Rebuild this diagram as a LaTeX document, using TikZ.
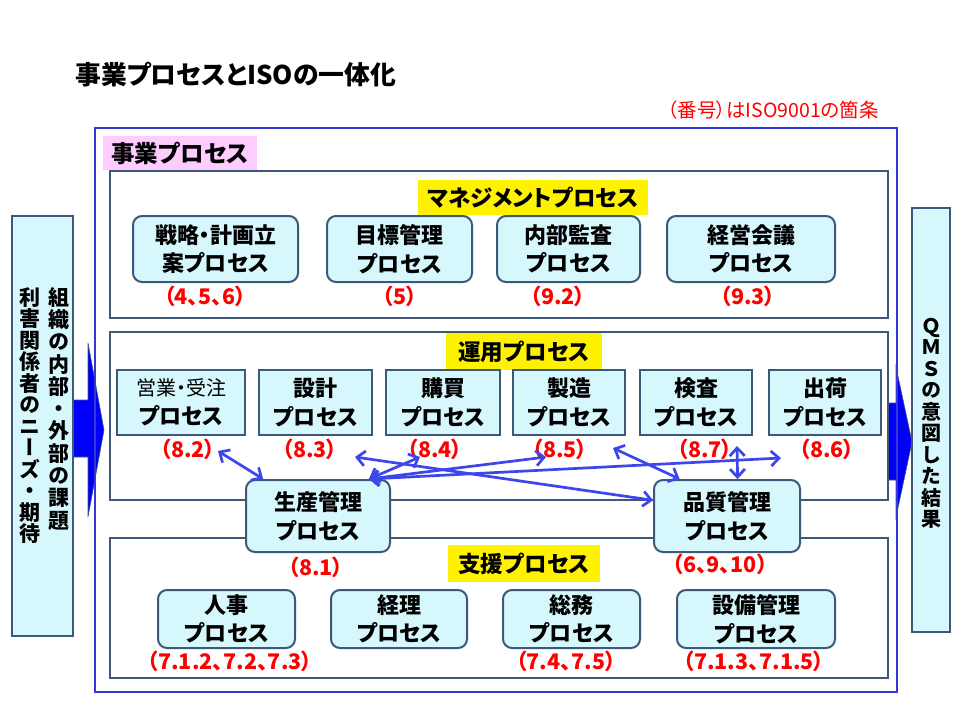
\documentclass[tikz,border=0pt]{standalone}
\usepackage{fontspec}
\newfontfamily\jp[RawFeature=+palt]{Noto Sans CJK JP}
\newfontfamily\jpv[RawFeature=+vert]{Noto Sans CJK JP}
\usetikzlibrary{arrows.meta}
\definecolor{frameblue}{RGB}{55,55,210}
\definecolor{slate}{RGB}{62,88,122}
\definecolor{cyanfill}{RGB}{214,247,252}
\definecolor{pinkfill}{RGB}{255,204,255}
\definecolor{arrowblue}{RGB}{60,70,235}
\definecolor{bigblue}{RGB}{0,0,250}
\tikzset{
  sect/.style={draw=slate, line width=2pt, fill=white, inner sep=0pt},
  yel/.style={fill=yellow, inner sep=0pt, font=\jp\bfseries\fontsize{22.5}{26}\selectfont},
  procr/.style={draw=slate, line width=2pt, fill=cyanfill, rounded corners=9pt, inner sep=0pt, align=center, font=\jp\bfseries\fontsize{22}{28.5}\selectfont},
  procs/.style={draw=slate, line width=2pt, fill=cyanfill, inner sep=0pt, align=center, font=\jp\bfseries\fontsize{22}{28.5}\selectfont},
  lab/.style={text=red, inner sep=0pt, font=\jp\bfseries\fontsize{21.5}{24}\selectfont},
  vtext/.style={inner sep=0pt, align=center, anchor=north},
  conn/.style={draw=arrowblue, line width=2.7pt, {Straight Barb[length=8pt,width=15pt]}-{Straight Barb[length=8pt,width=15pt]}},
  bigarrow/.style={fill=bigblue, draw=slate, line width=0.6pt}
}
\begin{document}
\begin{tikzpicture}[x=1pt,y=-1pt]
\useasboundingbox[fill=white] (0,0) rectangle (960,720);

% big arrows (behind)
\draw[bigarrow] (73,400) -- (88,400) -- (88,343) -- (104,430) -- (88,517) -- (88,457) -- (73,457) -- cycle;
\draw[bigarrow] (884,403) -- (896,403) -- (896,367) -- (912,442) -- (896,517) -- (896,480) -- (884,480) -- cycle;

% title and note
\node[anchor=west, inner sep=0pt, font=\jp\bfseries\fontsize{25.8}{30}\selectfont] (title) at (75,75) {事業プロセスとISOの一体化};
\node[anchor=east, inner sep=0pt, text=red, font=\jp\fontsize{19.5}{22}\selectfont] (note) at (879,110) {（番号）はISO9001の箇条};

% outer frame
\node[draw=frameblue, line width=2pt, minimum width=802pt, minimum height=564pt, inner sep=0pt] (frame) at (496,410) {};
\node[fill=pinkfill, minimum width=154pt, minimum height=34pt, inner sep=0pt, font=\jp\bfseries\fontsize{23.5}{27}\selectfont] (jigyo) at (180,153) {事業プロセス};

% sections
\node[sect, minimum width=778pt, minimum height=147pt] (mgmt) at (499,244.5) {};
\node[sect, minimum width=778pt, minimum height=168pt] (ops) at (499,416) {};
\node[sect, minimum width=778pt, minimum height=140pt] (supp) at (499,608) {};

\node[yel, minimum width=230pt, minimum height=35pt] (ymgmt) at (533,197.5) {マネジメントプロセス};
\node[yel, minimum width=156pt, minimum height=37pt] (yops) at (524,351.5) {運用プロセス};
\node[yel, minimum width=152pt, minimum height=37pt] (ysupp) at (524,563.5) {支援プロセス};

% management processes
\node[procr, minimum width=165pt, minimum height=66pt] (senryaku) at (215.5,249) {戦略・計画立\\案プロセス};
\node[procr, minimum width=145pt, minimum height=66pt] (mokuhyo) at (399.5,249) {目標管理\\プロセス};
\node[procr, minimum width=143pt, minimum height=66pt] (naibu) at (568.5,249) {内部監査\\プロセス};
\node[procr, minimum width=168pt, minimum height=66pt] (keiei) at (751,249) {経営会議\\プロセス};
\node[lab] (l1) at (205,296) {（4、5、6）};
\node[lab] (l2) at (400,296) {（5）};
\node[lab] (l3) at (558,296) {（9.2）};
\node[lab] (l4) at (748,296) {（9.3）};

% operation processes
\node[procs, minimum width=128pt, minimum height=65pt] (eigyo) at (181,402.5) {{\mdseries\fontsize{20}{28.5}\selectfont 営業・受注}\\プロセス};
\node[procs, minimum width=113pt, minimum height=65pt] (sekkei) at (315.5,402.5) {設計\\プロセス};
\node[procs, minimum width=114pt, minimum height=65pt] (kobai) at (443,402.5) {購買\\プロセス};
\node[procs, minimum width=112pt, minimum height=65pt] (seizo) at (569,402.5) {製造\\プロセス};
\node[procs, minimum width=112pt, minimum height=65pt] (kensa) at (696,402.5) {検査\\プロセス};
\node[procs, minimum width=112pt, minimum height=65pt] (shukka) at (825,402.5) {出荷\\プロセス};
\node[lab] (l82) at (188,449) {（8.2）};
\node[lab] (l83) at (310,449) {（8.3）};
\node[lab] (l84) at (435,449) {（8.4）};
\node[lab] (l85) at (560,449) {（8.5）};
\node[lab] (l87) at (705,449) {（8.7）};
\node[lab] (l86) at (827,449) {（8.6）};

% support processes
\node[procr, minimum width=137pt, minimum height=58pt] (jinji) at (226.5,619) {人事\\プロセス};
\node[procr, minimum width=136pt, minimum height=58pt] (keiri) at (399,619) {経理\\プロセス};
\node[procr, minimum width=137pt, minimum height=58pt] (somu) at (571.5,619) {総務\\プロセス};
\node[procr, minimum width=158pt, minimum height=58pt] (setsubi) at (756,619) {設備管理\\プロセス};
\node[lab] (ls1) at (230,661) {（7.1.2、7.2、7.3）};
\node[lab] (ls2) at (566,661) {（7.4、7.5）};
\node[lab] (ls3) at (754,661) {（7.1.3、7.1.5）};

% control processes
\node[procr, minimum width=144pt, minimum height=72pt] (seisan) at (318,516) {生産管理\\プロセス};
\node[procr, minimum width=146pt, minimum height=72pt] (hinshitsu) at (727,516) {品質管理\\プロセス};
\node[lab] (l81) at (316,567) {（8.1）};
\node[lab] (lq) at (720,564) {（6、9、10）};

% connector free ends
\coordinate (c82) at (218,451);
\coordinate (c83) at (355,457);
\coordinate (c84) at (420,457);
\coordinate (c85) at (546,457);
\coordinate (c85b) at (613,448);
\coordinate (c86) at (781,458);
\coordinate (c87) at (737,446);

\draw[conn] (c82) -- (seisan.146);
\draw[conn] (c83) -- (hinshitsu.168);
\draw[conn] (seisan.36) -- (c84);
\draw[conn] (seisan.36) -- (c85);
\draw[conn] (seisan.36) -- (c86);
\draw[conn] (c85b) -- (hinshitsu.142);
\draw[conn] (c87) -- (hinshitsu.74.5);

% side boxes
\node[draw=slate, line width=2pt, fill=cyanfill, minimum width=61pt, minimum height=420pt, inner sep=0pt] (left) at (42.5,426) {};
\node[draw=slate, line width=2pt, fill=cyanfill, minimum width=38pt, minimum height=424pt, inner sep=0pt] (right) at (931,420) {};

\node[vtext, font=\jpv\bfseries\fontsize{21}{22.3}\selectfont] (vt1) at (59,287) {組\\織\\の\\内\\部\\・\\外\\部\\の\\課\\題};
\node[vtext, font=\jpv\bfseries\fontsize{21}{21.5}\selectfont] (vt2) at (30,287) {利\\害\\関\\係\\者\\の\\ニ\\ー\\ズ\\・\\期\\待};
\node[vtext, font=\jpv\bfseries\fontsize{20}{21.5}\selectfont] (vt3) at (931,318) {Ｑ\\Ｍ\\Ｓ\\の\\意\\図\\し\\た\\結\\果};
\end{tikzpicture}
\end{document}
